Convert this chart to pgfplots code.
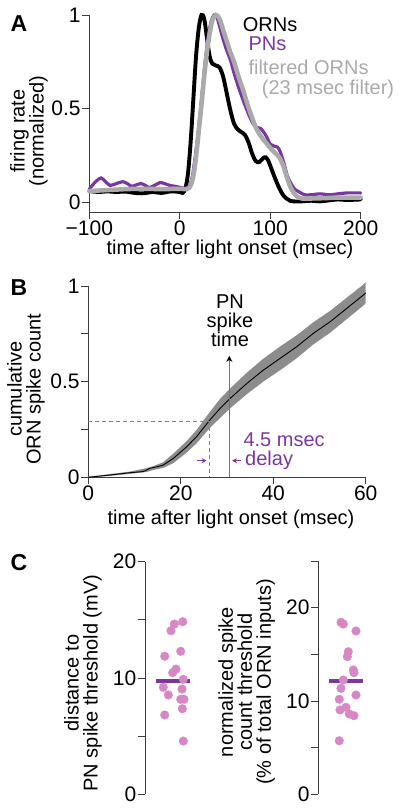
\documentclass[border=0pt]{standalone}
\usepackage{fontspec}
\setmainfont{Liberation Sans}
\usepackage{pgfplots}
\pgfplotsset{compat=1.18}
\usetikzlibrary{arrows.meta}
\definecolor{pnpurple}{RGB}{123,55,160}
\definecolor{dotpink}{RGB}{214,135,196}
\definecolor{fgray}{RGB}{170,170,170}
\definecolor{bandgray}{RGB}{140,140,140}
\definecolor{axcol}{RGB}{60,60,60}
\newcommand\fs{\fontsize{20}{20}\selectfont}
\newcommand\ft{\fontsize{21}{21}\selectfont}
\pgfplotsset{
  mystyle/.style={scale only axis, axis line style={axcol, line width=0.9pt},
    tick style={axcol, line width=0.9pt}, tick align=outside,
    major tick length=7pt, minor tick length=7pt,
    tick label style={font=\ft, inner sep=1.5pt},
    axis x line*=bottom, axis y line*=left, clip=false},
}
\begin{document}
\begin{tikzpicture}[font=\fs, every node/.style={inner sep=0pt}]
\useasboundingbox (0,0) rectangle (400pt,-812pt);
% ---------------- Panel A
\begin{axis}[mystyle, at={(89.3pt,-212pt)}, anchor=south west,
  width=271.4pt, height=197pt,
  xmin=-100, xmax=200, ymin=-0.052, ymax=1,
  xtick={-100,0,100,200}, xticklabels={−100,0,100,200},
  ytick={0,0.5,1}, yticklabels={0,0.5,1}]
\addplot[black, line width=3.9pt, smooth, line cap=round] coordinates {
(-100,0.06) (-90,0.055) (-80,0.058) (-70,0.055) (-60,0.057) (-50,0.05) (-40,0.048)
(-30,0.055) (-20,0.05) (-10,0.058) (0,0.055) (3,0.05) (6,0.07) (9,0.15) (12,0.32)
(15,0.55) (18,0.78) (21,0.93) (24,1.0) (27,0.98) (30,0.88) (33,0.78) (36,0.74)
(40,0.73) (44,0.72) (48,0.67) (52,0.58) (56,0.49) (60,0.42) (64,0.39) (68,0.375)
(72,0.36) (76,0.32) (80,0.26) (84,0.22) (88,0.215) (92,0.235) (95,0.24) (98,0.22)
(102,0.17) (106,0.12) (110,0.075) (114,0.04) (118,0.02) (122,0.008) (128,0.004)
(135,0.005) (145,0.008) (155,0.005) (165,0.01) (175,0.015) (185,0.012) (200,0.015)};
\addplot[pnpurple, line width=3.2pt, smooth, line cap=round] coordinates {
(-100,0.07) (-93,0.11) (-87,0.13) (-82,0.11) (-77,0.09) (-70,0.10) (-63,0.11)
(-58,0.10) (-53,0.085) (-47,0.095) (-43,0.1) (-38,0.09) (-34,0.078) (-28,0.09)
(-22,0.105) (-17,0.1) (-11,0.09) (-5,0.085) (0,0.08) (5,0.075) (8,0.075) (11,0.09)
(14,0.14) (17,0.24) (20,0.36) (24,0.55) (28,0.75) (32,0.9) (35,0.97) (38,1.0)
(41,0.99) (44,0.94) (48,0.87) (52,0.81) (56,0.76) (60,0.69) (66,0.6) (72,0.52)
(77,0.46) (81,0.42) (85,0.40) (89,0.395) (92,0.38) (96,0.35) (100,0.31) (104,0.30)
(108,0.295) (111,0.27) (115,0.21) (119,0.14) (123,0.10) (127,0.07) (132,0.055)
(138,0.04) (145,0.04) (155,0.045) (165,0.04) (175,0.045) (185,0.05) (200,0.05)};
\addplot[fgray, line width=4.5pt, smooth, line cap=round] coordinates {
(-100,0.06) (-80,0.065) (-60,0.07) (-40,0.072) (-20,0.07) (0,0.072) (8,0.07)
(12,0.09) (15,0.14) (18,0.24) (21,0.38) (24,0.52) (27,0.67) (30,0.8) (33,0.9)
(36,0.97) (40,1.0) (44,0.98) (48,0.92) (52,0.86) (56,0.8) (60,0.75) (65,0.67)
(70,0.6) (75,0.52) (80,0.45) (85,0.39) (90,0.35) (95,0.32) (100,0.29) (105,0.265)
(110,0.24) (114,0.2) (118,0.14) (122,0.085) (126,0.05) (130,0.03) (135,0.02)
(145,0.02) (160,0.022) (175,0.025) (190,0.025) (200,0.025)};
\end{axis}
\node[anchor=west] at (242.7pt,-25pt) {ORNs};
\node[anchor=west, text=pnpurple] at (248.3pt,-44pt) {PNs};
\node[anchor=west, text=fgray] at (248.3pt,-67pt) {filtered ORNs};
\node[anchor=west, text=fgray] at (261.7pt,-89pt) {(23 msec filter)};
\node[font=\fontsize{23}{23}\selectfont\bfseries] at (19pt,-24pt) {A};
\node at (230pt,-249pt) {time after light onset (msec)};
\node[rotate=90, align=center] at (29pt,-131pt) {firing rate\\[-1pt](normalized)};
% ---------------- Panel B
\begin{axis}[mystyle, at={(88.3pt,-477.3pt)}, anchor=south west,
  width=277.4pt, height=191.3pt,
  xmin=0, xmax=60, ymin=0, ymax=1,
  xtick={0,20,40,60}, xticklabels={0,20,40,60},
  ytick={0,0.25,0.5,0.75,1}, yticklabels={0,,0.5,,1}]
\addplot[fill=bandgray, draw=none] coordinates {
(0,0.003) (4.7,0.017) (9,0.030) (12.6,0.048) (14,0.058) (16.2,0.079) (18.4,0.124)
(21.3,0.19) (23.4,0.247) (26.3,0.342) (28.5,0.41) (30.7,0.465) (34.3,0.547)
(37.9,0.621) (41.5,0.684) (45.1,0.743) (48.7,0.811) (52.3,0.870) (55.9,0.939)
(59.5,1.008) (60,1.02)
(60,0.91) (59.5,0.898) (55.9,0.827) (52.3,0.756) (48.7,0.695) (45.1,0.623)
(41.5,0.560) (37.9,0.501) (34.3,0.435) (30.7,0.361) (28.5,0.31) (26.3,0.258)
(23.4,0.177) (21.3,0.13) (18.4,0.074) (16.2,0.049) (14,0.038) (12.6,0.028)
(9,0.018) (4.7,0.007) (0,0)};
\addplot[black, line width=0.9pt] coordinates {
(0,0) (4.7,0.012) (9,0.024) (11.9,0.03) (12.6,0.038) (13.3,0.047) (15.5,0.059)
(16.2,0.064) (18.4,0.099) (21.3,0.16) (23.4,0.212) (26.3,0.30) (28.5,0.36)
(30.7,0.413) (34.3,0.491) (37.9,0.561) (41.5,0.622) (45.1,0.683) (48.7,0.753)
(52.3,0.813) (55.9,0.883) (59.5,0.953) (60,0.965)};
\addplot[black!50, line width=0.8pt, dash pattern=on 4pt off 3pt] coordinates {(0,0.29) (26.1,0.29) (26.1,0)};
\draw[black!55, line width=0.9pt, -{Stealth[length=6pt,width=6pt,color=black]}] (axis cs:30.5,0) -- (axis cs:30.5,0.635);
\draw[pnpurple, line width=0.8pt, -{Stealth[length=5pt,width=5pt]}] (axis cs:23.6,0.087) -- (axis cs:25.6,0.087);
\draw[pnpurple, line width=0.8pt, -{Stealth[length=5pt,width=5pt]}] (axis cs:33.0,0.087) -- (axis cs:31.1,0.087);
\end{axis}
\node[align=center, font=\fontsize{20}{19.2}\selectfont] at (230pt,-321pt) {PN\\spike\\time};
\node[anchor=north west, align=left, text=pnpurple, font=\fontsize{20}{19.3}\selectfont] at (243.3pt,-432.5pt) {4.5 msec\\\hspace*{1.7pt}delay};
\node[font=\fontsize{23}{23}\selectfont\bfseries] at (19pt,-288pt) {B};
\node at (231pt,-519pt) {time after light onset (msec)};
\node[rotate=90, align=center] at (26pt,-389pt) {cumulative\\[-1pt]ORN spike count};
% ---------------- Panel C left
\begin{axis}[mystyle, at={(145pt,-794.3pt)}, anchor=south west,
  width=55pt, height=232.6pt, axis x line=none, axis y line*=left,
  xmin=0, xmax=55, ymin=0, ymax=20,
  ytick={0,5,10,15,20}, yticklabels={0,,10,,20}]
\addplot[only marks, mark=*, mark size=4.3pt, color=dotpink, mark options={solid, fill=dotpink}] coordinates {
(37.7,14.84) (29.3,14.64) (26,14.07) (35.7,12.30) (19.7,11.87) (31,10.77)
(27.7,10.46) (38.3,9.89) (18.3,9.20) (37,9.05) (23.3,8.54) (35.7,8.17)
(39,8.17) (37.3,7.36) (19.7,6.82) (38.3,4.58)};
\addplot[pnpurple, line width=4pt] coordinates {(11,9.74) (45,9.74)};
\end{axis}
\node[rotate=90, align=center] at (83pt,-683pt) {distance to\\[-1pt]PN spike threshold (mV)};
\node[font=\fontsize{23}{23}\selectfont\bfseries] at (19pt,-563pt) {C};
% ---------------- Panel C right
\begin{axis}[mystyle, at={(318.3pt,-794.3pt)}, anchor=south west,
  width=52pt, height=233.3pt, axis x line=none, axis y line*=left,
  xmin=0, xmax=52, ymin=0, ymax=25,
  ytick={0,5,10,15,20,25}, yticklabels={0,,10,,20,}]
\addplot[only marks, mark=*, mark size=4.3pt, color=dotpink, mark options={solid, fill=dotpink}] coordinates {
(22.7,18.43) (25,18.25) (37.7,17.50) (30,15.28) (29,14.75) (35,13.32) (35.7,13.03)
(25,12.25) (22.7,11.36) (21,10.18) (37.7,10.64) (27.7,9.32) (21.7,9.04)
(31,8.61) (35.7,8.42) (21,5.74)};
\addplot[pnpurple, line width=4pt] coordinates {(10.7,12.1) (44.7,12.1)};
\end{axis}
\node[rotate=90, align=center] at (246.7pt,-682pt) {normalized spike\\[-1pt]count threshold\\[-1pt](\% of total ORN inputs)};
\end{tikzpicture}
\end{document}
